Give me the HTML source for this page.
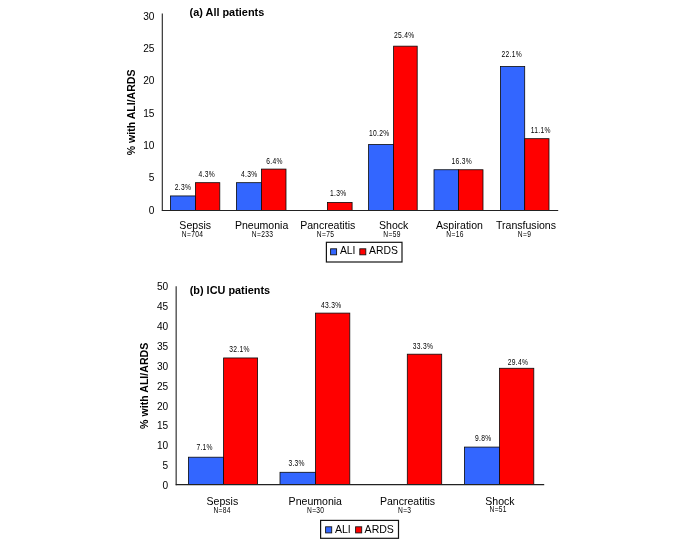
<!DOCTYPE html>
<html><head><meta charset="utf-8"><title>ALI/ARDS</title>
<style>
html,body{margin:0;padding:0;background:#fff;}
body{width:685px;height:542px;overflow:hidden;font-family:"Liberation Sans",sans-serif;}
svg{display:block;font-family:"Liberation Sans",sans-serif;will-change:transform;}
</style></head><body>
<svg width="685" height="542" viewBox="0 0 685 542">
<rect x="0" y="0" width="685" height="542" fill="#ffffff"/>
<rect x="170.4" y="195.94" width="25.0" height="14.56" fill="#3366FF" stroke="#0a0a0a" stroke-width="0.8"/>
<rect x="195.4" y="182.68" width="24.4" height="27.82" fill="#FF0000" stroke="#0a0a0a" stroke-width="0.8"/>
<rect x="236.4" y="182.68" width="25.0" height="27.82" fill="#3366FF" stroke="#0a0a0a" stroke-width="0.8"/>
<rect x="261.4" y="169.09" width="24.6" height="41.41" fill="#FF0000" stroke="#0a0a0a" stroke-width="0.8"/>
<rect x="327.4" y="202.41" width="24.7" height="8.09" fill="#FF0000" stroke="#0a0a0a" stroke-width="0.8"/>
<rect x="368.6" y="144.51" width="25.0" height="65.99" fill="#3366FF" stroke="#0a0a0a" stroke-width="0.8"/>
<rect x="393.6" y="46.16" width="23.6" height="164.34" fill="#FF0000" stroke="#0a0a0a" stroke-width="0.8"/>
<rect x="434.0" y="169.74" width="24.4" height="40.76" fill="#3366FF" stroke="#0a0a0a" stroke-width="0.8"/>
<rect x="458.4" y="169.74" width="24.6" height="40.76" fill="#FF0000" stroke="#0a0a0a" stroke-width="0.8"/>
<rect x="500.4" y="66.54" width="24.3" height="143.96" fill="#3366FF" stroke="#0a0a0a" stroke-width="0.8"/>
<rect x="524.7" y="138.68" width="24.3" height="71.82" fill="#FF0000" stroke="#0a0a0a" stroke-width="0.8"/>
<line x1="162.3" y1="13.6" x2="162.3" y2="211.1" stroke="#222" stroke-width="1.1"/>
<line x1="161.9" y1="210.5" x2="558.2" y2="210.5" stroke="#222" stroke-width="1.1"/>
<text x="154.4" y="213.65" font-size="10.15" text-anchor="end" fill="#000">0</text>
<text x="154.4" y="181.3" font-size="10.15" text-anchor="end" fill="#000">5</text>
<text x="154.4" y="148.95000000000002" font-size="10.15" text-anchor="end" fill="#000">10</text>
<text x="154.4" y="116.60000000000001" font-size="10.15" text-anchor="end" fill="#000">15</text>
<text x="154.4" y="84.25" font-size="10.15" text-anchor="end" fill="#000">20</text>
<text x="154.4" y="51.9" font-size="10.15" text-anchor="end" fill="#000">25</text>
<text x="154.4" y="19.549999999999997" font-size="10.15" text-anchor="end" fill="#000">30</text>
<text x="189.6" y="15.95" font-size="10.9" text-anchor="start" font-weight="bold" fill="#000">(a) All patients</text>
<text transform="translate(134.9,112.4) rotate(-90)" font-size="10.55" text-anchor="middle" font-weight="bold" fill="#000">% with ALI/ARDS</text>
<text x="195.2" y="228.7" font-size="10.55" text-anchor="middle" fill="#000">Sepsis</text>
<text transform="translate(192.5,236.6) scale(0.815,1)" font-size="8.2" letter-spacing="0.35" text-anchor="middle" fill="#000">N=704</text>
<text x="261.6" y="228.7" font-size="10.55" text-anchor="middle" fill="#000">Pneumonia</text>
<text transform="translate(262.5,236.6) scale(0.815,1)" font-size="8.2" letter-spacing="0.35" text-anchor="middle" fill="#000">N=233</text>
<text x="327.7" y="228.7" font-size="10.55" text-anchor="middle" fill="#000">Pancreatitis</text>
<text transform="translate(325.5,236.6) scale(0.815,1)" font-size="8.2" letter-spacing="0.35" text-anchor="middle" fill="#000">N=75</text>
<text x="393.7" y="228.7" font-size="10.55" text-anchor="middle" fill="#000">Shock</text>
<text transform="translate(392.0,236.6) scale(0.815,1)" font-size="8.2" letter-spacing="0.35" text-anchor="middle" fill="#000">N=59</text>
<text x="459.5" y="228.7" font-size="10.55" text-anchor="middle" fill="#000">Aspiration</text>
<text transform="translate(455.0,236.6) scale(0.815,1)" font-size="8.2" letter-spacing="0.35" text-anchor="middle" fill="#000">N=16</text>
<text x="526.0" y="228.7" font-size="10.55" text-anchor="middle" fill="#000">Transfusions</text>
<text transform="translate(524.5,236.6) scale(0.815,1)" font-size="8.2" letter-spacing="0.35" text-anchor="middle" fill="#000">N=9</text>
<text transform="translate(183.0,189.6) scale(0.8,1)" font-size="8.4" letter-spacing="0.35" text-anchor="middle" fill="#000">2.3%</text>
<text transform="translate(206.8,176.6) scale(0.8,1)" font-size="8.4" letter-spacing="0.35" text-anchor="middle" fill="#000">4.3%</text>
<text transform="translate(249.2,176.6) scale(0.8,1)" font-size="8.4" letter-spacing="0.35" text-anchor="middle" fill="#000">4.3%</text>
<text transform="translate(274.5,164.0) scale(0.8,1)" font-size="8.4" letter-spacing="0.35" text-anchor="middle" fill="#000">6.4%</text>
<text transform="translate(338.3,195.6) scale(0.8,1)" font-size="8.4" letter-spacing="0.35" text-anchor="middle" fill="#000">1.3%</text>
<text transform="translate(379.3,136.0) scale(0.8,1)" font-size="8.4" letter-spacing="0.35" text-anchor="middle" fill="#000">10.2%</text>
<text transform="translate(404.3,38.0) scale(0.8,1)" font-size="8.4" letter-spacing="0.35" text-anchor="middle" fill="#000">25.4%</text>
<text transform="translate(461.8,164.0) scale(0.8,1)" font-size="8.4" letter-spacing="0.35" text-anchor="middle" fill="#000">16.3%</text>
<text transform="translate(511.8,57.0) scale(0.8,1)" font-size="8.4" letter-spacing="0.35" text-anchor="middle" fill="#000">22.1%</text>
<text transform="translate(540.7,133.0) scale(0.8,1)" font-size="8.4" letter-spacing="0.35" text-anchor="middle" fill="#000">11.1%</text>
<rect x="326.4" y="242.3" width="75.6" height="19.7" fill="#fff" stroke="#141414" stroke-width="1.2"/>
<rect x="330.6" y="248.8" width="6" height="6" fill="#3366FF" stroke="#141414" stroke-width="0.9"/>
<rect x="359.8" y="248.8" width="6" height="6" fill="#FF0000" stroke="#141414" stroke-width="0.9"/>
<text x="339.9" y="254.2" font-size="10.4" text-anchor="start" fill="#000">ALI</text>
<text x="369.0" y="254.2" font-size="10.4" text-anchor="start" fill="#000">ARDS</text>
<rect x="188.4" y="457.21" width="35.2" height="27.39" fill="#3366FF" stroke="#0a0a0a" stroke-width="0.8"/>
<rect x="223.6" y="357.96" width="34.0" height="126.64" fill="#FF0000" stroke="#0a0a0a" stroke-width="0.8"/>
<rect x="280.0" y="472.29" width="35.5" height="12.31" fill="#3366FF" stroke="#0a0a0a" stroke-width="0.8"/>
<rect x="315.5" y="313.1" width="34.3" height="171.5" fill="#FF0000" stroke="#0a0a0a" stroke-width="0.8"/>
<rect x="407.3" y="354.19" width="34.4" height="130.41" fill="#FF0000" stroke="#0a0a0a" stroke-width="0.8"/>
<rect x="464.4" y="447.08" width="35.1" height="37.52" fill="#3366FF" stroke="#0a0a0a" stroke-width="0.8"/>
<rect x="499.5" y="368.28" width="34.3" height="116.32" fill="#FF0000" stroke="#0a0a0a" stroke-width="0.8"/>
<line x1="176.15" y1="286.2" x2="176.15" y2="485.20000000000005" stroke="#222" stroke-width="1.1"/>
<line x1="175.75" y1="484.6" x2="544.2" y2="484.6" stroke="#222" stroke-width="1.1"/>
<text x="168.2" y="488.90000000000003" font-size="10.15" text-anchor="end" fill="#000">0</text>
<text x="168.2" y="469.05" font-size="10.15" text-anchor="end" fill="#000">5</text>
<text x="168.2" y="449.2" font-size="10.15" text-anchor="end" fill="#000">10</text>
<text x="168.2" y="429.35" font-size="10.15" text-anchor="end" fill="#000">15</text>
<text x="168.2" y="409.5" font-size="10.15" text-anchor="end" fill="#000">20</text>
<text x="168.2" y="389.65000000000003" font-size="10.15" text-anchor="end" fill="#000">25</text>
<text x="168.2" y="369.8" font-size="10.15" text-anchor="end" fill="#000">30</text>
<text x="168.2" y="349.95" font-size="10.15" text-anchor="end" fill="#000">35</text>
<text x="168.2" y="330.1" font-size="10.15" text-anchor="end" fill="#000">40</text>
<text x="168.2" y="310.25" font-size="10.15" text-anchor="end" fill="#000">45</text>
<text x="168.2" y="290.40000000000003" font-size="10.15" text-anchor="end" fill="#000">50</text>
<text x="189.7" y="294.3" font-size="10.9" text-anchor="start" font-weight="bold" fill="#000">(b) ICU patients</text>
<text transform="translate(148.1,385.8) rotate(-90)" font-size="10.62" text-anchor="middle" font-weight="bold" fill="#000">% with ALI/ARDS</text>
<text x="222.4" y="504.7" font-size="10.55" text-anchor="middle" fill="#000">Sepsis</text>
<text transform="translate(222.1,512.8) scale(0.815,1)" font-size="8.2" letter-spacing="0.35" text-anchor="middle" fill="#000">N=84</text>
<text x="315.3" y="504.7" font-size="10.55" text-anchor="middle" fill="#000">Pneumonia</text>
<text transform="translate(315.7,512.8) scale(0.815,1)" font-size="8.2" letter-spacing="0.35" text-anchor="middle" fill="#000">N=30</text>
<text x="407.5" y="504.7" font-size="10.55" text-anchor="middle" fill="#000">Pancreatitis</text>
<text transform="translate(404.7,512.8) scale(0.815,1)" font-size="8.2" letter-spacing="0.35" text-anchor="middle" fill="#000">N=3</text>
<text x="500.0" y="504.7" font-size="10.55" text-anchor="middle" fill="#000">Shock</text>
<text transform="translate(498.2,511.7) scale(0.815,1)" font-size="8.2" letter-spacing="0.35" text-anchor="middle" fill="#000">N=51</text>
<text transform="translate(204.6,450.0) scale(0.8,1)" font-size="8.4" letter-spacing="0.35" text-anchor="middle" fill="#000">7.1%</text>
<text transform="translate(239.5,352.4) scale(0.8,1)" font-size="8.4" letter-spacing="0.35" text-anchor="middle" fill="#000">32.1%</text>
<text transform="translate(296.6,466.0) scale(0.8,1)" font-size="8.4" letter-spacing="0.35" text-anchor="middle" fill="#000">3.3%</text>
<text transform="translate(331.3,308.0) scale(0.8,1)" font-size="8.4" letter-spacing="0.35" text-anchor="middle" fill="#000">43.3%</text>
<text transform="translate(423.0,348.6) scale(0.8,1)" font-size="8.4" letter-spacing="0.35" text-anchor="middle" fill="#000">33.3%</text>
<text transform="translate(483.2,441.0) scale(0.8,1)" font-size="8.4" letter-spacing="0.35" text-anchor="middle" fill="#000">9.8%</text>
<text transform="translate(518.0,364.6) scale(0.8,1)" font-size="8.4" letter-spacing="0.35" text-anchor="middle" fill="#000">29.4%</text>
<rect x="320.6" y="520.4" width="77.9" height="17.9" fill="#fff" stroke="#141414" stroke-width="1.2"/>
<rect x="325.6" y="526.8" width="6.1" height="6.1" fill="#3366FF" stroke="#141414" stroke-width="0.9"/>
<rect x="355.6" y="526.8" width="6.1" height="6.1" fill="#FF0000" stroke="#141414" stroke-width="0.9"/>
<text x="334.9" y="532.7" font-size="10.55" text-anchor="start" fill="#000">ALI</text>
<text x="364.6" y="532.7" font-size="10.55" text-anchor="start" fill="#000">ARDS</text>
</svg>
</body></html>
